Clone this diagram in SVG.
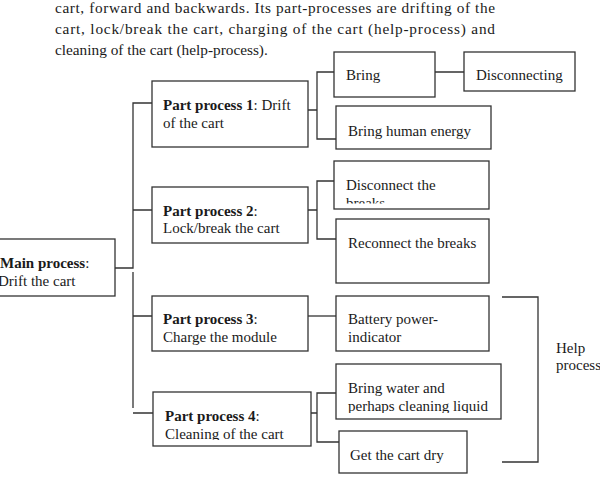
<svg xmlns="http://www.w3.org/2000/svg" width="600" height="477" viewBox="0 0 600 477">
<style>
text{font-family:"Liberation Serif","Times New Roman",serif;font-size:15px;fill:#1a1a1a}
.p{font-size:15.3px}
.b{font-weight:bold}
.box{fill:#fff;stroke:#333;stroke-width:1.3}
.ln{fill:none;stroke:#333;stroke-width:1.3}
</style>
<defs>
<clipPath id="c1"><rect x="330" y="150" width="170" height="53.5"/></clipPath>
<clipPath id="c2"><rect x="150" y="385" width="170" height="55"/></clipPath>
<clipPath id="c3"><rect x="330" y="360" width="180" height="53"/></clipPath>
</defs>
<rect width="600" height="477" fill="#fff"/>
<g id="intro">
<text class="p" x="55" y="12.5" textLength="440" lengthAdjust="spacing">cart, forward and backwards. Its part-processes are drifting of the</text>
<text class="p" x="55" y="34" textLength="440" lengthAdjust="spacing">cart, lock/break the cart, charging of the cart (help-process) and</text>
<text class="p" x="55" y="55">cleaning of the cart (help-process).</text>
</g>
<g id="connectors">
<path class="ln" d="M115 268H133V103H152M133 210H152"/>
<path class="ln" d="M133 272V408M133 316H152M133 413H153"/>
<path class="ln" d="M308 110H317M334 72H317V139H336M435 72H464"/>
<path class="ln" d="M308 210H317M334 181H317V239H336"/>
<path class="ln" d="M308 316H336"/>
<path class="ln" d="M311 413H317M336 393H317V442H339"/>
<path class="ln" d="M502 297H538V462H502"/>
</g>
<g id="main">
<rect class="box" x="-10" y="239" width="125" height="57"/>
<text x="0" y="268"><tspan class="b">Main process</tspan>:</text>
<text x="-2" y="286">Drift the cart</text>
</g>
<g id="pp1">
<rect class="box" x="152" y="81" width="156" height="66"/>
<text x="163" y="110"><tspan class="b">Part process 1</tspan>: Drift</text>
<text x="163" y="128">of the cart</text>
</g>
<g id="pp2">
<rect class="box" x="152" y="187" width="156" height="56"/>
<text x="163" y="216"><tspan class="b">Part process 2</tspan>:</text>
<text x="163" y="233">Lock/break the cart</text>
</g>
<g id="pp3">
<rect class="box" x="152" y="296" width="156" height="55"/>
<text x="163" y="324"><tspan class="b">Part process 3</tspan>:</text>
<text x="163" y="342">Charge the module</text>
</g>
<g id="pp4">
<rect class="box" x="153" y="392" width="158" height="54"/>
<text x="165" y="421"><tspan class="b">Part process 4</tspan>:</text>
<text x="165" y="439" clip-path="url(#c2)">Cleaning of the cart</text>
</g>
<g id="bring">
<rect class="box" x="334" y="52" width="101" height="45"/>
<text x="346" y="80">Bring</text>
</g>
<g id="disconnecting">
<rect class="box" x="464" y="52" width="111" height="39"/>
<text x="476" y="80">Disconnecting</text>
</g>
<g id="human">
<rect class="box" x="336" y="106" width="155" height="43"/>
<text x="348" y="136">Bring human energy</text>
</g>
<g id="disconnect">
<rect class="box" x="334" y="161" width="155" height="48"/>
<text x="346" y="190">Disconnect the</text>
<text x="346" y="208" clip-path="url(#c1)">breaks</text>
</g>
<g id="reconnect">
<rect class="box" x="336" y="219" width="153" height="64"/>
<text x="348" y="248">Reconnect the breaks</text>
</g>
<g id="battery">
<rect class="box" x="336" y="296" width="153" height="55"/>
<text x="348" y="324">Battery power-</text>
<text x="348" y="342">indicator</text>
</g>
<g id="water">
<rect class="box" x="336" y="364" width="165" height="55"/>
<text x="348" y="393">Bring water and</text>
<text x="348" y="411" clip-path="url(#c3)">perhaps cleaning liquid</text>
</g>
<g id="dry">
<rect class="box" x="339" y="431" width="128" height="42"/>
<text x="350" y="460">Get the cart dry</text>
</g>
<g id="help">
<text x="556" y="353">Help</text>
<text x="556" y="370">process</text>
</g>
</svg>
